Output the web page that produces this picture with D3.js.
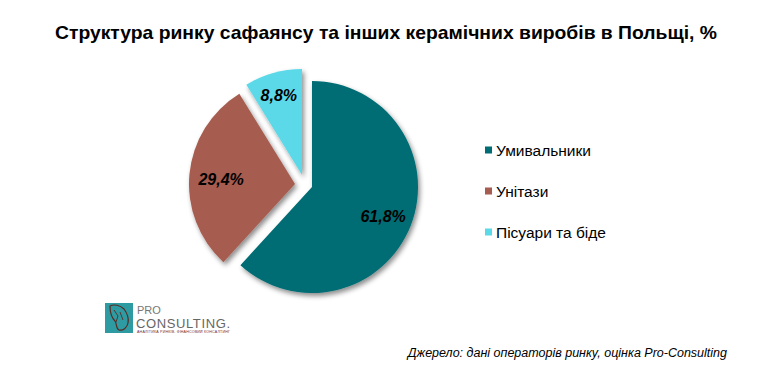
<!DOCTYPE html>
<html>
<head>
<meta charset="utf-8">
<script src="https://cdn.jsdelivr.net/npm/d3@7"></script>
<style>
  body { margin: 0; background: #fff; }
  text { font-family: "Liberation Sans", Arial, sans-serif; }
</style>
</head>
<body>
<script>
// data
var categories = ["Умивальники", "Унітази", "Пісуари та біде"];
var shares = [61.8, 29.4, 8.8];
var shareLabels = ["61,8%", "29,4%", "8,8%"];

var colors = ["#006C73", "#A65C50", "#5BD9E8"];
// explode offsets per slice (style)
var explode = [[0, 0], [-17, -3], [-10, -12]];

var W = 780, H = 385;
var svg = d3.select("body").append("svg")
    .attr("width", W)
    .attr("height", H);

var defs = svg.append("defs");
var f = defs.append("filter").attr("id", "shadow")
    .attr("x", "-20%").attr("y", "-20%").attr("width", "140%").attr("height", "140%");
f.append("feDropShadow")
    .attr("dx", 2).attr("dy", 3).attr("stdDeviation", 2.5)
    .attr("flood-color", "#000").attr("flood-opacity", 0.45);

// title
svg.append("text")
    .attr("x", 386).attr("y", 39)
    .attr("text-anchor", "middle")
    .attr("font-size", 18.5)
    .attr("font-weight", "bold")
    .attr("fill", "#000")
    .attr("textLength", 662)
    .attr("lengthAdjust", "spacingAndGlyphs")
    .text("Структура ринку сафаянсу та інших керамічних виробів в Польщі, %");

// pie
var cx = 312, cy = 187, r = 106;
var pie = d3.pie().sort(null).value(d => d);
var arcs = pie(shares);
var arc = d3.arc().innerRadius(0).outerRadius(r);

var g = svg.append("g").attr("transform", "translate(" + cx + "," + cy + ")");

g.selectAll("path.slice")
    .data(arcs)
    .enter()
    .append("path")
    .attr("class", "slice")
    .attr("d", arc)
    .attr("fill", (d, i) => colors[i])
    .attr("filter", "url(#shadow)")
    .attr("transform", (d, i) => "translate(" + explode[i][0] + "," + explode[i][1] + ")");

var labelPos = [0.72, 0.7, 0.8];
g.selectAll("text.lbl")
    .data(arcs)
    .enter()
    .append("text")
    .attr("class", "lbl")
    .attr("transform", (d, i) => {
      var a = (d.startAngle + d.endAngle) / 2;
      var k = r * labelPos[i];
      var x = Math.sin(a) * k + explode[i][0];
      var y = -Math.cos(a) * k + explode[i][1];
      return "translate(" + x + "," + y + ")";
    })
    .attr("text-anchor", "middle")
    .attr("dy", "0.48em")
    .attr("font-size", 16)
    .attr("font-weight", "bold")
    .attr("font-style", "italic")
    .attr("fill", "#000")
    .text((d, i) => shareLabels[i]);

// legend
var ly = d3.scalePoint().domain(categories).range([150, 232]);
var lg = svg.append("g");
lg.selectAll("rect")
    .data(categories)
    .enter()
    .append("rect")
    .attr("x", 485)
    .attr("y", d => ly(d) - 3.5)
    .attr("width", 7).attr("height", 7)
    .attr("fill", (d, i) => colors[i]);
lg.selectAll("text")
    .data(categories)
    .enter()
    .append("text")
    .attr("x", 496)
    .attr("y", d => ly(d))
    .attr("dy", "0.36em")
    .attr("font-size", 15.5)
    .attr("fill", "#000")
    .text(d => d);

// logo
var logo = svg.append("g");
logo.append("rect")
    .attr("x", 105).attr("y", 303).attr("width", 28).attr("height", 30)
    .attr("fill", "#2E9BA3");
logo.append("path")
    .attr("d", "M110,306 C114,304 120,305 124,309 C127,313 129,318 128,323 C127,328 123,331 119,330 C116,329 117,324 115,321 C112,318 110,314 110,306 Z")
    .attr("fill", "none").attr("stroke", "#5a2a22").attr("stroke-width", 1.2);
logo.append("path")
    .attr("d", "M114,310 L118,316 L116,322 M120,312 L123,320")
    .attr("fill", "none").attr("stroke", "#5a2a22").attr("stroke-width", 0.9);
logo.append("text")
    .attr("x", 137).attr("y", 314)
    .attr("font-family", "'Liberation Serif', serif")
    .attr("font-size", 11)
    .attr("fill", "#777")
    .text("PRO");
logo.append("text")
    .attr("x", 136).attr("y", 328)
    .attr("font-family", "'Liberation Serif', serif")
    .attr("font-size", 13)
    .attr("fill", "#666")
    .attr("textLength", 94)
    .text("CONSULTING.");
logo.append("text")
    .attr("x", 137).attr("y", 333)
    .attr("font-size", 3.6).attr("fill", "#7a2b2b")
    .attr("textLength", 93)
    .text("АНАЛІТИКА РИНКІВ. ФІНАНСОВИЙ КОНСАЛТИНГ");

// source note
svg.append("text")
    .attr("x", 727).attr("y", 357)
    .attr("text-anchor", "end")
    .attr("font-size", 12.5)
    .attr("font-style", "italic")
    .attr("fill", "#000")
    .text("Джерело: дані операторів ринку, оцінка Pro-Consulting");
</script>
</body>
</html>
